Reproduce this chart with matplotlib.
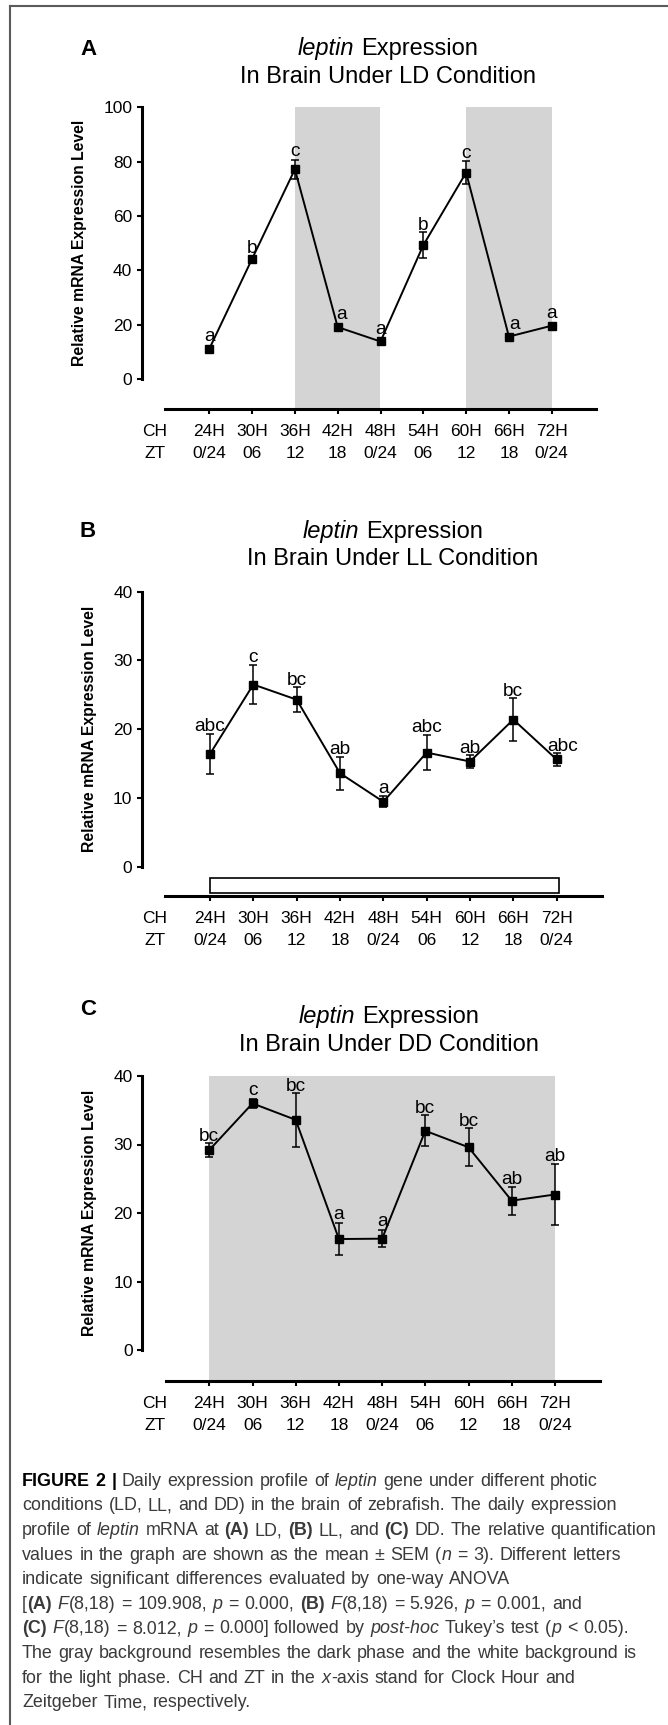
import re
import matplotlib
matplotlib.use('Agg')
import matplotlib.pyplot as plt
from matplotlib.lines import Line2D
from matplotlib.patches import Rectangle
import numpy as np

plt.rcParams['font.family'] = ['Liberation Sans', 'DejaVu Sans']

W, H, DPI = 668, 1725, 100

# ---- data ----
ch_labels = ['24H', '30H', '36H', '42H', '48H', '54H', '60H', '66H', '72H']
zt_labels = ['0/24', '06', '12', '18', '0/24', '06', '12', '18', '0/24']

ld_mean = [11.2, 44.3, 77.2, 19.2, 13.9, 49.3, 76.0, 15.7, 19.7]
ld_sem = [0.8, 1.0, 3.6, 0.8, 0.8, 4.8, 4.1, 0.8, 0.8]
ld_letters = ['a', 'b', 'c', 'a', 'a', 'b', 'c', 'a', 'a']

ll_mean = [16.4, 26.5, 24.3, 13.6, 9.45, 16.6, 15.3, 21.4, 15.6]
ll_sem = [2.95, 2.8, 1.8, 2.4, 0.8, 2.6, 0.9, 3.15, 0.9]
ll_letters = ['abc', 'c', 'bc', 'ab', 'a', 'abc', 'ab', 'bc', 'abc']

dd_mean = [29.2, 36.0, 33.6, 16.2, 16.25, 32.0, 29.6, 21.8, 22.7]
dd_sem = [1.0, 0.7, 3.9, 2.4, 1.25, 2.25, 2.8, 2.05, 4.5]
dd_letters = ['bc', 'c', 'bc', 'a', 'a', 'bc', 'bc', 'ab', 'ab']

# dark phases as (first, last) time point index
ld_dark = [(2, 4), (6, 8)]
dd_dark = [(0, 8)]

fig = plt.figure(figsize=(W / DPI, H / DPI), dpi=DPI)
renderer = fig.canvas.get_renderer()


def fx(px):
    return px / W


def fy(py):
    return 1 - py / H


STY = {'n': {}, 'i': {'style': 'italic'}, 'b': {'weight': 'bold'}}


def measure(s, size, family, sty):
    t = fig.text(0, 0, s, fontsize=size, family=family, **STY[sty])
    w = t.get_window_extent(renderer).width
    t.remove()
    return w


def layout_runs(runs, size, family):
    items = []
    x = 0
    bear = 0.035 * size * DPI / 72
    first = True
    for run in runs:
        text, sty = run[0], run[1]
        color = run[2] if len(run) > 2 else None
        sp = measure('a a', size, family, sty) - measure('aa', size, family, sty)
        for tok in re.split(r'( )', text):
            if tok == '':
                continue
            if tok == ' ':
                x += sp
                continue
            if not first:
                x += bear
            items.append((x, tok, sty, color))
            x += measure(tok, size, family, sty)
            first = False
    return items, x


def draw_runs(x_px, y_px, runs, size, family, color='black', center=False):
    items, total = layout_runs(runs, size, family)
    x0 = x_px - total / 2 if center else x_px
    for dx, tok, sty, col in items:
        fig.text(fx(x0 + dx), fy(y_px), tok, fontsize=size, family=family,
                 color=col or color, va='baseline', ha='left', **STY[sty])


def draw_panel(g, means, sems, letters, ymax, ystep, tag, cond, dark=(), light_box=False, nudge=None):
    nudge = nudge or {}
    ppu = (g['y0'] - g['ytop']) / ymax
    ybot = -(g['axis'] - g['y0']) / ppu
    xlo = (g['spine'] - g['tick0']) / g['step']
    xhi = (g['xline'][1] + 12 - g['tick0']) / g['step']
    ax = fig.add_axes([fx(g['spine']), fy(g['axis']),
                       (xhi - xlo) * g['step'] / W, (g['axis'] - g['ytop']) / H])
    ax.set_xlim(xlo, xhi)
    ax.set_ylim(ybot, ymax)
    ax.patch.set_visible(False)
    ax.spines['top'].set_visible(False)
    ax.spines['right'].set_visible(False)
    ax.spines['left'].set_bounds(0, ymax)
    ax.spines['bottom'].set_bounds((g['xline'][0] - g['tick0']) / g['step'],
                                   (g['xline'][1] - g['tick0']) / g['step'])
    for s in ['left', 'bottom']:
        ax.spines[s].set_linewidth(2.2)

    x = np.arange(len(ch_labels))
    ax.set_yticks(np.arange(0, ymax + 1, ystep))
    ax.tick_params(axis='y', direction='out', length=3.3, width=1.5, pad=3.5, labelsize=12.5)
    ax.set_xticks(x)
    ax.tick_params(axis='x', direction='out', length=3.4, width=1.5, labelbottom=False)

    for a, b in dark:
        ax.axvspan(a, b, color='#d4d4d4', lw=0, zorder=0)
    if light_box:
        ax.add_patch(Rectangle((0, -3.78), 8.05, 2.2, fc='white', ec='black', lw=1.2,
                               clip_on=False, zorder=2))

    ax.errorbar(x, means, yerr=sems, fmt='-s', color='black', ms=5.8, lw=1.4,
                elinewidth=1.1, capsize=2.7, capthick=1.1, zorder=3, clip_on=False)

    for i, (m, e, lab) in enumerate(zip(means, sems, letters)):
        err_px = ax.transData.transform((0, m + e))[1] - ax.transData.transform((0, m))[1]
        off = max(err_px, 4.0) - err_px + (6.8 if 'b' in lab else 8.2)
        ax.annotate(lab, (i + nudge.get(i, 0), m + e), xytext=(0, off * 72 / DPI),
                    textcoords='offset points', ha='center', va='center', fontsize=13.8)

    # two rows of time labels under the axis
    hx = (155 - g['tick0']) / g['step']
    for row, labs, head in [(27.0, ch_labels, 'CH'), (49.0, zt_labels, 'ZT')]:
        for i, lab in enumerate(labs):
            ax.annotate(lab, (i, ybot), xytext=(0, -row * 72 / DPI), textcoords='offset points',
                        ha='center', va='baseline', fontsize=12.5, annotation_clip=False)
        ax.annotate(head, (hx, ybot), xytext=(0, -row * 72 / DPI), textcoords='offset points',
                    ha='center', va='baseline', fontsize=12.5, annotation_clip=False)

    ax.set_ylabel('Relative mRNA Expression Level', fontsize=11.3, fontweight='bold', labelpad=11.5)
    ax.yaxis.label.set_y((ymax / 2 - ybot) / (ymax - ybot))

    # panel tag and two-line title
    fig.text(fx(g['tag'][0]), fy(g['tag'][1] + 8), tag, fontsize=16, fontweight='bold',
             ha='center', va='baseline')
    draw_runs(g['title_x'], g['title_y'][0] + 8.5, [('leptin', 'i'), (' Expression', 'n')],
              17, 'Liberation Sans', center=True)
    fig.text(fx(g['title_x']), fy(g['title_y'][1] + 8.5), 'In Brain Under %s Condition' % cond,
             fontsize=17, ha='center', va='baseline')
    return ax


GA = dict(spine=141.7, tick0=209.3, step=42.8, y0=379.3, ytop=107.3, axis=409.0,
          xline=(165.0, 596.0), title_x=388, title_y=(46.7, 74.2), tag=(88, 46.7))
GB = dict(spine=141.9, tick0=210.0, step=43.33, y0=866.7, ytop=591.7, axis=895.7,
          xline=(165.0, 601.7), title_x=393, title_y=(529.3, 556.8), tag=(87.8, 529.3))
GC = dict(spine=142.0, tick0=209.3, step=43.2, y0=1350.0, ytop=1076.0, axis=1380.7,
          xline=(165.7, 600.0), title_x=389, title_y=(1015.0, 1042.5), tag=(87.8, 1006.7))

draw_panel(GA, ld_mean, ld_sem, ld_letters, 100, 20, 'A', 'LD', dark=ld_dark, nudge={3: 0.1, 7: 0.13})
draw_panel(GB, ll_mean, ll_sem, ll_letters, 40, 10, 'B', 'LL', light_box=True, nudge={8: 0.14})
draw_panel(GC, dd_mean, dd_sem, dd_letters, 40, 10, 'C', 'DD', dark=dd_dark)

# ---- caption ----
GREY = '#3a3a3a'
cap_lines = [
    [('FIGURE 2 |', 'b', 'black'), (' Daily expression profile of ', 'n'), ('leptin', 'i'),
     (' gene under different photic', 'n')],
    [('conditions (LD, LL, and DD) in the brain of zebrafish. The daily expression', 'n')],
    [('profile of ', 'n'), ('leptin', 'i'), (' mRNA at ', 'n'), ('(A)', 'b'), (' LD, ', 'n'),
     ('(B)', 'b'), (' LL, and ', 'n'), ('(C)', 'b'), (' DD. The relative quantification', 'n')],
    [('values in the graph are shown as the mean \u00b1 SEM (', 'n'), ('n', 'i'),
     (' = 3). Different letters', 'n')],
    [('indicate significant differences evaluated by one-way ANOVA', 'n')],
    [('[', 'n'), ('(A)', 'b'), (' ', 'n'), ('F', 'i'), ('(8,18) = 109.908, ', 'n'), ('p', 'i'),
     (' = 0.000, ', 'n'), ('(B)', 'b'), (' ', 'n'), ('F', 'i'), ('(8,18) = 5.926, ', 'n'),
     ('p', 'i'), (' = 0.001, and', 'n')],
    [('(C)', 'b'), (' ', 'n'), ('F', 'i'), ('(8,18) = 8.012, ', 'n'), ('p', 'i'),
     (' = 0.000] followed by ', 'n'), ('post-hoc', 'i'), (' Tukey\u2019s test (', 'n'),
     ('p', 'i'), (' < 0.05).', 'n')],
    [('The gray background resembles the dark phase and the white background is', 'n')],
    [('for the light phase. CH and ZT in the ', 'n'), ('x', 'i'),
     ('-axis stand for Clock Hour and', 'n')],
    [('Zeitgeber Time, respectively.', 'n')],
]
cap_family = ['Liberation Sans Narrow', 'Liberation Sans']
w12 = layout_runs(cap_lines[2], 12, cap_family)[1]
cap_size = 12 * 636 / w12
for k, line in enumerate(cap_lines):
    draw_runs(22, 1485.8 + 24.6 * k, line, cap_size, cap_family, color=GREY)

# frame lines at the top and left edge
fig.add_artist(Line2D([fx(10), 1], [fy(6), fy(6)], color='#5a5a5a', lw=1.5, transform=fig.transFigure))
fig.add_artist(Line2D([fx(10), fx(10)], [fy(6), 0], color='#5a5a5a', lw=1.5, transform=fig.transFigure))

fig.savefig('out.png', dpi=DPI)
